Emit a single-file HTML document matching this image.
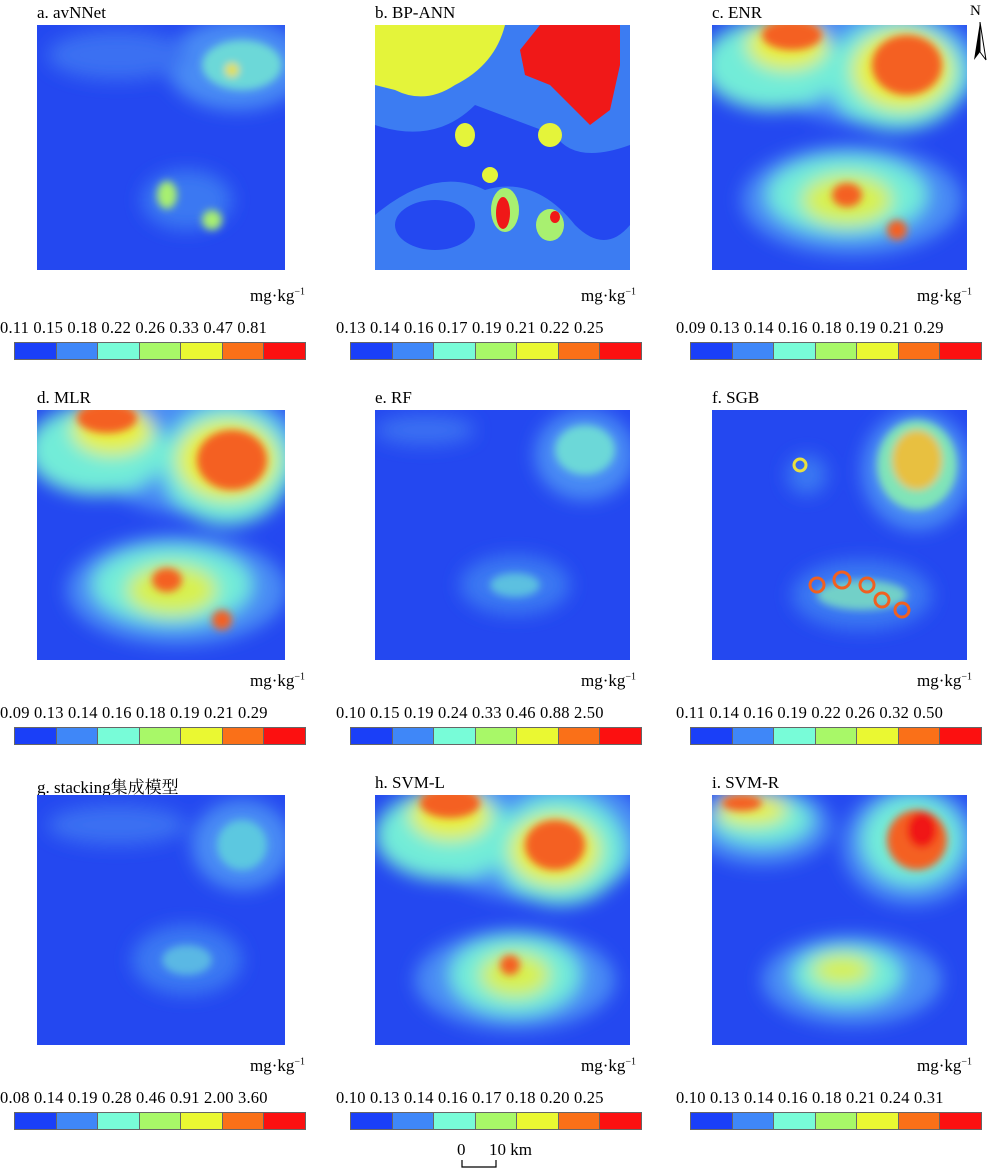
<!DOCTYPE html><html><head><style>
body{margin:0;background:#fff;width:1000px;height:1173px;position:relative;font-family:"Liberation Serif","Noto Serif CJK SC",serif;overflow:hidden}
.t{position:absolute;font-size:17px;color:#000}
.u{position:absolute;font-size:17px}
.l{position:absolute;font-size:16.5px;white-space:nowrap;letter-spacing:0.2px}
.cb{position:absolute;width:292px;height:18px;display:flex;border:1px solid #666;box-sizing:border-box}
.cb div{flex:1;border-right:1px solid #666}
.cb div:last-child{border-right:none}
svg.m{position:absolute}
</style></head><body>
<svg width="0" height="0" style="position:absolute"><defs>
<filter id="b" x="-30%" y="-30%" width="160%" height="160%"><feGaussianBlur stdDeviation="9"/></filter>
<filter id="s" x="-30%" y="-30%" width="160%" height="160%"><feGaussianBlur stdDeviation="4"/></filter>
</defs></svg>

<div class="t" style="left:37px;top:3px">a. avNNet</div>
<div class="t" style="left:375px;top:3px">b. BP-ANN</div>
<div class="t" style="left:712px;top:3px">c. ENR</div>
<div class="t" style="left:37px;top:388px">d. MLR</div>
<div class="t" style="left:375px;top:388px">e. RF</div>
<div class="t" style="left:712px;top:388px">f. SGB</div>
<div class="t" style="left:37px;top:773px">g. stacking集成模型</div>
<div class="t" style="left:375px;top:773px">h. SVM-L</div>
<div class="t" style="left:712px;top:773px">i. SVM-R</div>
<div class="t" style="left:970px;top:3px;font-size:15px">N</div>
<svg style="position:absolute;left:970px;top:22px" width="20" height="42"><polygon points="10,0 4,38 10,30" fill="#000"/><polygon points="10,0 16,38 10,30" fill="#fff" stroke="#000"/></svg>

<!-- a -->
<svg class="m" style="left:37px;top:25px" width="248" height="245"><rect width="248" height="245" fill="#2448f0"/>
<g filter="url(#b)"><ellipse cx="200" cy="40" rx="70" ry="45" fill="#4a8cf4"/><ellipse cx="80" cy="30" rx="70" ry="25" fill="#3a70f2"/><ellipse cx="150" cy="175" rx="45" ry="30" fill="#3a78f2"/></g>
<g filter="url(#s)"><ellipse cx="205" cy="40" rx="40" ry="25" fill="#6cd8d8"/><ellipse cx="130" cy="170" rx="10" ry="14" fill="#a8f070"/><ellipse cx="175" cy="195" rx="10" ry="10" fill="#a8f070"/><ellipse cx="195" cy="45" rx="7" ry="7" fill="#e8e040"/></g></svg>
<!-- b -->
<svg class="m" style="left:375px;top:25px" width="255" height="245"><rect width="255" height="245" fill="#2448f0"/>
<path d="M0 0H255V120Q200 140 180 110Q140 95 100 80Q60 120 0 100Z" fill="#3c7cf2"/>
<path d="M0 0H130Q120 40 80 60Q50 80 20 65L0 60Z" fill="#e4f43a"/>
<path d="M140 0H255V40L210 90L240 110L200 100L170 60L140 40Z" fill="#3c7cf2"/>
<path d="M165 0H245V40L235 85L215 100L195 80L175 60L150 50L145 25Z" fill="#f01818"/>
<path d="M0 190Q60 140 110 165Q160 150 200 200Q230 230 255 200V245H0Z" fill="#3c7cf2"/>
<ellipse cx="60" cy="200" rx="40" ry="25" fill="#2448f0"/>
<ellipse cx="175" cy="110" rx="12" ry="12" fill="#e4f43a"/><ellipse cx="90" cy="110" rx="10" ry="12" fill="#e4f43a"/>
<ellipse cx="130" cy="185" rx="14" ry="22" fill="#a8f070"/><ellipse cx="128" cy="188" rx="7" ry="16" fill="#f01818"/>
<ellipse cx="175" cy="200" rx="14" ry="16" fill="#a8f070"/><ellipse cx="180" cy="192" rx="5" ry="6" fill="#f01818"/>
<ellipse cx="115" cy="150" rx="8" ry="8" fill="#e4f43a"/></svg>
<!-- c -->
<svg class="m" style="left:712px;top:25px" width="255" height="245"><rect width="255" height="245" fill="#2448f0"/>
<g filter="url(#b)"><ellipse cx="160" cy="40" rx="110" ry="60" fill="#4a8cf4"/><ellipse cx="140" cy="175" rx="110" ry="55" fill="#4a8cf4"/><ellipse cx="60" cy="40" rx="70" ry="45" fill="#72ecd8"/><ellipse cx="185" cy="50" rx="70" ry="55" fill="#72ecd8"/><ellipse cx="135" cy="170" rx="80" ry="40" fill="#72ecd8"/>
<ellipse cx="75" cy="20" rx="40" ry="25" fill="#e8f040"/><ellipse cx="190" cy="45" rx="50" ry="40" fill="#e8f040"/><ellipse cx="135" cy="175" rx="45" ry="25" fill="#d8f050"/></g>
<g filter="url(#s)"><ellipse cx="80" cy="10" rx="30" ry="15" fill="#f46020"/><ellipse cx="195" cy="40" rx="35" ry="30" fill="#f46020"/><ellipse cx="135" cy="170" rx="15" ry="12" fill="#f46020"/><ellipse cx="185" cy="205" rx="10" ry="10" fill="#f46020"/></g></svg>
<!-- d -->
<svg class="m" style="left:37px;top:410px" width="248" height="250"><rect width="248" height="250" fill="#2448f0"/>
<g filter="url(#b)"><ellipse cx="160" cy="40" rx="110" ry="65" fill="#4a8cf4"/><ellipse cx="140" cy="180" rx="110" ry="55" fill="#4a8cf4"/><ellipse cx="60" cy="40" rx="70" ry="45" fill="#72ecd8"/><ellipse cx="190" cy="55" rx="65" ry="60" fill="#72ecd8"/><ellipse cx="135" cy="175" rx="80" ry="40" fill="#72ecd8"/>
<ellipse cx="75" cy="20" rx="40" ry="25" fill="#e8f040"/><ellipse cx="190" cy="50" rx="50" ry="40" fill="#e8f040"/><ellipse cx="135" cy="180" rx="45" ry="25" fill="#d8f050"/></g>
<g filter="url(#s)"><ellipse cx="70" cy="8" rx="30" ry="15" fill="#f46020"/><ellipse cx="195" cy="50" rx="35" ry="30" fill="#f46020"/><ellipse cx="130" cy="170" rx="15" ry="12" fill="#f46020"/><ellipse cx="185" cy="210" rx="10" ry="10" fill="#f46020"/></g></svg>
<!-- e -->
<svg class="m" style="left:375px;top:410px" width="255" height="250"><rect width="255" height="250" fill="#2448f0"/>
<g filter="url(#b)"><ellipse cx="210" cy="45" rx="50" ry="45" fill="#4a8cf4"/><ellipse cx="50" cy="20" rx="50" ry="15" fill="#3a70f2"/><ellipse cx="140" cy="175" rx="55" ry="30" fill="#3a78f2"/></g>
<g filter="url(#s)"><ellipse cx="210" cy="40" rx="30" ry="25" fill="#6cd8d8"/><ellipse cx="140" cy="175" rx="25" ry="12" fill="#5cc0e0"/></g></svg>
<!-- f -->
<svg class="m" style="left:712px;top:410px" width="255" height="250"><rect width="255" height="250" fill="#2448f0"/>
<g filter="url(#b)"><ellipse cx="205" cy="60" rx="55" ry="60" fill="#4a8cf4"/><ellipse cx="150" cy="185" rx="70" ry="35" fill="#3a78f2"/><ellipse cx="95" cy="65" rx="20" ry="20" fill="#3a78f2"/></g>
<g filter="url(#s)"><ellipse cx="205" cy="55" rx="40" ry="45" fill="#80e4b8"/><ellipse cx="205" cy="50" rx="25" ry="30" fill="#e8c040"/><ellipse cx="150" cy="185" rx="45" ry="15" fill="#72d0c8"/></g>
<g fill="none" stroke="#f06020" stroke-width="3"><circle cx="105" cy="175" r="7"/><circle cx="130" cy="170" r="8"/><circle cx="155" cy="175" r="7"/><circle cx="170" cy="190" r="7"/><circle cx="190" cy="200" r="7"/><circle cx="88" cy="55" r="6" stroke="#e8e040"/></g></svg>
<!-- g -->
<svg class="m" style="left:37px;top:795px" width="248" height="250"><rect width="248" height="250" fill="#2448f0"/>
<g filter="url(#b)"><ellipse cx="205" cy="50" rx="50" ry="45" fill="#4a8cf4"/><ellipse cx="80" cy="30" rx="70" ry="20" fill="#3a70f2"/><ellipse cx="150" cy="165" rx="55" ry="35" fill="#3a78f2"/></g>
<g filter="url(#s)"><ellipse cx="205" cy="50" rx="25" ry="25" fill="#5cc8e0"/><ellipse cx="150" cy="165" rx="25" ry="15" fill="#5ab8e4"/></g></svg>
<!-- h -->
<svg class="m" style="left:375px;top:795px" width="255" height="250"><rect width="255" height="250" fill="#2448f0"/>
<g filter="url(#b)"><ellipse cx="160" cy="40" rx="115" ry="65" fill="#4a8cf4"/><ellipse cx="140" cy="185" rx="100" ry="50" fill="#4a8cf4"/><ellipse cx="70" cy="40" rx="70" ry="45" fill="#72ecd8"/><ellipse cx="185" cy="55" rx="65" ry="55" fill="#72ecd8"/><ellipse cx="140" cy="180" rx="65" ry="40" fill="#72ecd8"/>
<ellipse cx="75" cy="20" rx="40" ry="25" fill="#e8f040"/><ellipse cx="180" cy="55" rx="45" ry="35" fill="#e8f040"/><ellipse cx="140" cy="180" rx="35" ry="22" fill="#d8f050"/></g>
<g filter="url(#s)"><ellipse cx="75" cy="8" rx="30" ry="15" fill="#f46020"/><ellipse cx="180" cy="50" rx="30" ry="25" fill="#f46020"/><ellipse cx="135" cy="170" rx="10" ry="10" fill="#f46020"/></g></svg>
<!-- i -->
<svg class="m" style="left:712px;top:795px" width="255" height="250"><rect width="255" height="250" fill="#2448f0"/>
<g filter="url(#b)"><ellipse cx="200" cy="50" rx="70" ry="60" fill="#4a8cf4"/><ellipse cx="50" cy="30" rx="70" ry="40" fill="#4a8cf4"/><ellipse cx="140" cy="185" rx="90" ry="45" fill="#4a8cf4"/><ellipse cx="200" cy="45" rx="50" ry="45" fill="#72ecd8"/><ellipse cx="50" cy="25" rx="50" ry="25" fill="#72ecd8"/><ellipse cx="135" cy="180" rx="55" ry="30" fill="#72ecd8"/><ellipse cx="40" cy="15" rx="35" ry="15" fill="#e8f040"/><ellipse cx="130" cy="175" rx="30" ry="15" fill="#d8f050"/></g>
<g filter="url(#s)"><ellipse cx="205" cy="45" rx="30" ry="30" fill="#f46020"/><ellipse cx="210" cy="35" rx="15" ry="18" fill="#f01818"/><ellipse cx="30" cy="8" rx="20" ry="8" fill="#f46020"/></g></svg>

<!-- units -->
<div class="u" style="left:250px;top:286px">mg·kg<sup style="font-size:10px">−1</sup></div>
<div class="u" style="left:581px;top:286px">mg·kg<sup style="font-size:10px">−1</sup></div>
<div class="u" style="left:917px;top:286px">mg·kg<sup style="font-size:10px">−1</sup></div>
<div class="u" style="left:250px;top:671px">mg·kg<sup style="font-size:10px">−1</sup></div>
<div class="u" style="left:581px;top:671px">mg·kg<sup style="font-size:10px">−1</sup></div>
<div class="u" style="left:917px;top:671px">mg·kg<sup style="font-size:10px">−1</sup></div>
<div class="u" style="left:250px;top:1056px">mg·kg<sup style="font-size:10px">−1</sup></div>
<div class="u" style="left:581px;top:1056px">mg·kg<sup style="font-size:10px">−1</sup></div>
<div class="u" style="left:917px;top:1056px">mg·kg<sup style="font-size:10px">−1</sup></div>

<!-- labels -->
<div class="l" style="left:0px;top:318px">0.11 0.15 0.18 0.22 0.26 0.33 0.47 0.81</div>
<div class="l" style="left:336px;top:318px">0.13 0.14 0.16 0.17 0.19 0.21 0.22 0.25</div>
<div class="l" style="left:676px;top:318px">0.09 0.13 0.14 0.16 0.18 0.19 0.21 0.29</div>
<div class="l" style="left:0px;top:703px">0.09 0.13 0.14 0.16 0.18 0.19 0.21 0.29</div>
<div class="l" style="left:336px;top:703px">0.10 0.15 0.19 0.24 0.33 0.46 0.88 2.50</div>
<div class="l" style="left:676px;top:703px">0.11 0.14 0.16 0.19 0.22 0.26 0.32 0.50</div>
<div class="l" style="left:0px;top:1088px">0.08 0.14 0.19 0.28 0.46 0.91 2.00 3.60</div>
<div class="l" style="left:336px;top:1088px">0.10 0.13 0.14 0.16 0.17 0.18 0.20 0.25</div>
<div class="l" style="left:676px;top:1088px">0.10 0.13 0.14 0.16 0.18 0.21 0.24 0.31</div>

<!-- colorbars -->
<div class="cb" style="left:14px;top:342px"><div style="background:#1a3ff8"></div><div style="background:#3f87f8"></div><div style="background:#78fcd8"></div><div style="background:#a8f868"></div><div style="background:#eaf832"></div><div style="background:#fa7018"></div><div style="background:#fc1010"></div></div>
<div class="cb" style="left:350px;top:342px"><div style="background:#1a3ff8"></div><div style="background:#3f87f8"></div><div style="background:#78fcd8"></div><div style="background:#a8f868"></div><div style="background:#eaf832"></div><div style="background:#fa7018"></div><div style="background:#fc1010"></div></div>
<div class="cb" style="left:690px;top:342px"><div style="background:#1a3ff8"></div><div style="background:#3f87f8"></div><div style="background:#78fcd8"></div><div style="background:#a8f868"></div><div style="background:#eaf832"></div><div style="background:#fa7018"></div><div style="background:#fc1010"></div></div>
<div class="cb" style="left:14px;top:727px"><div style="background:#1a3ff8"></div><div style="background:#3f87f8"></div><div style="background:#78fcd8"></div><div style="background:#a8f868"></div><div style="background:#eaf832"></div><div style="background:#fa7018"></div><div style="background:#fc1010"></div></div>
<div class="cb" style="left:350px;top:727px"><div style="background:#1a3ff8"></div><div style="background:#3f87f8"></div><div style="background:#78fcd8"></div><div style="background:#a8f868"></div><div style="background:#eaf832"></div><div style="background:#fa7018"></div><div style="background:#fc1010"></div></div>
<div class="cb" style="left:690px;top:727px"><div style="background:#1a3ff8"></div><div style="background:#3f87f8"></div><div style="background:#78fcd8"></div><div style="background:#a8f868"></div><div style="background:#eaf832"></div><div style="background:#fa7018"></div><div style="background:#fc1010"></div></div>
<div class="cb" style="left:14px;top:1112px"><div style="background:#1a3ff8"></div><div style="background:#3f87f8"></div><div style="background:#78fcd8"></div><div style="background:#a8f868"></div><div style="background:#eaf832"></div><div style="background:#fa7018"></div><div style="background:#fc1010"></div></div>
<div class="cb" style="left:350px;top:1112px"><div style="background:#1a3ff8"></div><div style="background:#3f87f8"></div><div style="background:#78fcd8"></div><div style="background:#a8f868"></div><div style="background:#eaf832"></div><div style="background:#fa7018"></div><div style="background:#fc1010"></div></div>
<div class="cb" style="left:690px;top:1112px"><div style="background:#1a3ff8"></div><div style="background:#3f87f8"></div><div style="background:#78fcd8"></div><div style="background:#a8f868"></div><div style="background:#eaf832"></div><div style="background:#fa7018"></div><div style="background:#fc1010"></div></div>

<!-- scale bar -->
<div class="u" style="left:457px;top:1140px">0</div>
<div class="u" style="left:489px;top:1140px">10 km</div>
<svg style="position:absolute;left:460px;top:1158px" width="40" height="12"><path d="M2 2V9H36V2" fill="none" stroke="#000" stroke-width="1.2"/></svg>
</body></html>
